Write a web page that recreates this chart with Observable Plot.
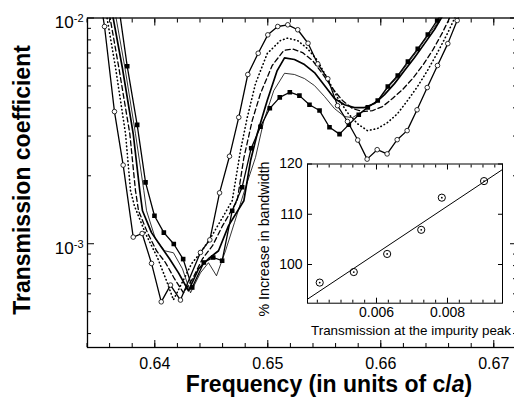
<!DOCTYPE html>
<html><head><meta charset="utf-8">
<script src="https://cdn.jsdelivr.net/npm/d3@7"></script>
<script src="https://cdn.jsdelivr.net/npm/@observablehq/plot@0.6"></script>
<style>
html,body{margin:0;padding:0;background:#fff;overflow:hidden;}
#wrap{position:relative;width:514px;height:405px;overflow:hidden;background:#fff;}
#wrap svg{position:absolute;}
</style></head><body><div id="wrap"></div>
<script>
// ---- main chart data: frequency (c/a) and transmission coefficient ----
const freqA = [0.63533, 0.63555, 0.63643, 0.6372, 0.63809, 0.63888, 0.63971, 0.64057, 0.64139, 0.64227, 0.64404, 0.64487, 0.64573, 0.64661, 0.64743, 0.64823, 0.64915, 0.65, 0.65088, 0.65177, 0.65265, 0.65356, 0.65442, 0.65531, 0.65617, 0.65705, 0.65796, 0.65879, 0.65968, 0.66056, 0.66145, 0.66233, 0.66321, 0.66411, 0.66502, 0.66593, 0.66676, 0.66758];
const transA = [0.0108, 0.00917, 0.00385, 0.00223, 0.00107, 0.00111, 0.000818, 0.000553, 0.000656, 0.000563, 0.000915, 0.00104, 0.00168, 0.00244, 0.00363, 0.00562, 0.00698, 0.00842, 0.00917, 0.00933, 0.00887, 0.00773, 0.00626, 0.00538, 0.00409, 0.00348, 0.00288, 0.00237, 0.00261, 0.0025, 0.00289, 0.00317, 0.00392, 0.00492, 0.00616, 0.0077, 0.00975, 0.012];

const freqB = [0.63572, 0.63652, 0.63741, 0.63785, 0.6382, 0.63918, 0.64024, 0.64104, 0.64165, 0.64245, 0.64325, 0.64404, 0.64493, 0.64581, 0.64685, 0.64758, 0.64818, 0.64891, 0.64995, 0.65112, 0.65174, 0.65263, 0.65351, 0.6544, 0.65528, 0.65617, 0.65705, 0.65794, 0.65882, 0.65971, 0.66059, 0.66148, 0.66237, 0.66325, 0.66413, 0.66502, 0.6659, 0.66652, 0.66705];
const transB = [0.01036, 0.00605, 0.00307, 0.00172, 0.00147, 0.00111, 0.000867, 0.000685, 0.000564, 0.000678, 0.000815, 0.000912, 0.00106, 0.00126, 0.00155, 0.00258, 0.00362, 0.00512, 0.00696, 0.00795, 0.00814, 0.00795, 0.00732, 0.00648, 0.00539, 0.00444, 0.00381, 0.0034, 0.00317, 0.00324, 0.00344, 0.00377, 0.00431, 0.00497, 0.00585, 0.00703, 0.00854, 0.00995, 0.01125];

const freqC = [0.63599, 0.63681, 0.63779, 0.63829, 0.63856, 0.63935, 0.64015, 0.64095, 0.64174, 0.64254, 0.64334, 0.64422, 0.64511, 0.64599, 0.64729, 0.64788, 0.64862, 0.64935, 0.65039, 0.65142, 0.65219, 0.65307, 0.65396, 0.65484, 0.65573, 0.65661, 0.6575, 0.65838, 0.65927, 0.66015, 0.66104, 0.66193, 0.66281, 0.6637, 0.66458, 0.66546, 0.66617];
const transC = [0.01036, 0.00605, 0.00307, 0.00172, 0.0014, 0.00112, 0.000931, 0.000824, 0.0007, 0.000606, 0.0007, 0.000858, 0.00098, 0.0012, 0.00155, 0.0024, 0.00351, 0.00463, 0.00616, 0.00718, 0.00729, 0.00703, 0.00648, 0.00567, 0.00487, 0.00431, 0.00397, 0.00385, 0.00389, 0.00405, 0.0044, 0.00482, 0.00539, 0.00616, 0.00718, 0.00862, 0.0102];

const freqD = [0.63626, 0.63712, 0.63809, 0.63867, 0.63891, 0.63971, 0.6405, 0.6413, 0.6421, 0.64298, 0.64387, 0.64475, 0.64564, 0.64652, 0.64788, 0.64847, 0.64906, 0.64995, 0.65083, 0.65148, 0.65236, 0.65325, 0.65413, 0.65502, 0.6559, 0.65679, 0.65767, 0.65856, 0.65944, 0.66033, 0.66121, 0.6621, 0.66299, 0.66387, 0.66475, 0.66546];
const transD = [0.01036, 0.00605, 0.00307, 0.00172, 0.0014, 0.00112, 0.00098, 0.000858, 0.000743, 0.000619, 0.000774, 0.000858, 0.000931, 0.0012, 0.00155, 0.00233, 0.00306, 0.00431, 0.00585, 0.00666, 0.00655, 0.00622, 0.00573, 0.00502, 0.0044, 0.00413, 0.00401, 0.00401, 0.00418, 0.00458, 0.00512, 0.00585, 0.00668, 0.0077, 0.00889, 0.0102];

const freqE = [0.63652, 0.63735, 0.63829, 0.63903, 0.63927, 0.64006, 0.64086, 0.64165, 0.64245, 0.64316, 0.64404, 0.64475, 0.64546, 0.64626, 0.64705, 0.64794, 0.64891, 0.64965, 0.65053, 0.65148, 0.65236, 0.65325, 0.65413, 0.65502, 0.6559, 0.65679, 0.6575, 0.6582, 0.65891, 0.65971, 0.66059, 0.66148, 0.66237, 0.66325, 0.66413, 0.66502, 0.66546];
const transE = [0.01036, 0.00605, 0.00307, 0.00172, 0.0014, 0.00105, 0.000931, 0.000912, 0.000774, 0.000606, 0.000743, 0.000824, 0.000721, 0.000931, 0.00124, 0.00172, 0.00241, 0.00351, 0.00477, 0.00569, 0.00562, 0.00539, 0.00502, 0.00449, 0.00397, 0.00366, 0.00362, 0.00381, 0.00405, 0.00428, 0.00489, 0.00547, 0.00628, 0.00718, 0.00828, 0.00955, 0.01036];

const freqF = [0.63667, 0.63756, 0.63844, 0.63918, 0.63997, 0.6408, 0.64168, 0.64251, 0.64331, 0.64434, 0.64517, 0.64596, 0.64685, 0.64773, 0.64853, 0.64935, 0.65018, 0.65106, 0.65195, 0.6528, 0.65369, 0.65458, 0.65546, 0.65635, 0.65717, 0.65805, 0.65885, 0.65973, 0.66062, 0.6615, 0.6624, 0.66327, 0.66416, 0.66499, 0.66582];
const transF = [0.0126, 0.00611, 0.00336, 0.00187, 0.00133, 0.00112, 0.000997, 0.000855, 0.00064, 0.000826, 0.000869, 0.000841, 0.0014, 0.00178, 0.00265, 0.0033, 0.00398, 0.00445, 0.00469, 0.00453, 0.00413, 0.00389, 0.00328, 0.00306, 0.00337, 0.00373, 0.00402, 0.00431, 0.00497, 0.00556, 0.00641, 0.0073, 0.00845, 0.00975, 0.01125];

// ---- inset data ----
const peakTrans = [0.0044, 0.00536, 0.0063, 0.00726, 0.00784, 0.00903];
const bwIncrease = [96.4, 98.5, 102.1, 106.9, 113.3, 116.6];
const fitTrans = [0.004056, 0.00955];
const fitIncrease = [93.1, 118.9];

// ---- tick labels / titles ----
const xTicks = [0.64, 0.65, 0.66, 0.67];
const yTicks = [0.001, 0.01];
const insetXTicks = [0.006, 0.008];
const insetYTicks = [100, 110, 120];
const xTitle = ["Frequency (in units of c/", "a", ")"];
const yTitle = "Transmission coefficient";
const insetXTitle = "Transmission at the impurity peak";
const insetYTitle = "% Increase in bandwidth";

const FONT = '"Liberation Sans", Arial, Helvetica, sans-serif';
const rows = (f, t) => f.map((v, i) => ({f: v, t: t[i]}));
const xMinor = d3.range(317, 337).map(k => k * 0.002);
const yMinor = [4,5,6,7,8,9].map(k => k * 1e-4).concat([2,3,4,5,6,7,8,9].map(k => k * 1e-3));
const blank = () => "";

const main = Plot.plot({
  width: 518, height: 405,
  marginLeft: 87, marginRight: 2, marginTop: 17.5, marginBottom: 58,
  x: {domain: [0.634044, 0.67201], label: null},
  y: {type: "log", domain: [3.47e-4, 1e-2], label: null},
  style: {background: "transparent", maxWidth: "none", fontFamily: FONT, overflow: "visible"},
  marks: [
    Plot.line(rows(freqE, transE), {x: "f", y: "t", stroke: "black", strokeWidth: 0.8, clip: true}),
    Plot.line(rows(freqD, transD), {x: "f", y: "t", stroke: "black", strokeWidth: 1.7, clip: true}),
    Plot.line(rows(freqC, transC), {x: "f", y: "t", stroke: "black", strokeWidth: 1.3, strokeDasharray: "5,3", clip: true}),
    Plot.line(rows(freqB, transB), {x: "f", y: "t", stroke: "black", strokeWidth: 1.6, strokeDasharray: "0.5,3.2", strokeLinecap: "round", clip: true}),
    Plot.line(rows(freqF, transF), {x: "f", y: "t", stroke: "black", strokeWidth: 1.3, clip: true}),
    Plot.line(rows(freqA, transA), {x: "f", y: "t", stroke: "black", strokeWidth: 1.3, clip: true}),
    Plot.dot(rows(freqF, transF), {x: "f", y: "t", symbol: "square", r: 2.6, fill: "black", clip: true}),
    Plot.dot(rows(freqA, transA), {x: "f", y: "t", r: 2.3, fill: "white", stroke: "black", strokeWidth: 0.8, clip: true}),
    Plot.axisX({anchor: "bottom", ticks: xMinor, tickSize: -4, tickFormat: blank, label: null}),
    Plot.axisX({anchor: "bottom", ticks: xTicks, tickSize: -7, tickFormat: blank, label: null}),
    Plot.axisX({anchor: "bottom", ticks: xTicks, tickSize: 0, tickPadding: 10, tickFormat: d3.format(".2f"), fontSize: 16, label: null}),
    Plot.axisX({anchor: "top", ticks: xMinor, tickSize: -4, tickFormat: blank, label: null}),
    Plot.axisX({anchor: "top", ticks: xTicks, tickSize: -7, tickFormat: blank, label: null}),
    Plot.axisY({anchor: "left", ticks: yMinor, tickSize: -4, tickFormat: blank, label: null}),
    Plot.axisY({anchor: "left", ticks: yTicks, tickSize: -7, tickFormat: blank, label: null}),
    Plot.axisY({anchor: "left", ticks: yTicks, tickSize: 0, tickPadding: 4, tickFormat: d => "10^" + Math.round(Math.log10(d)), fontSize: 17, label: null}),
    Plot.axisY({anchor: "right", ticks: yMinor, tickSize: -4, tickFormat: blank, label: null}),
    Plot.axisY({anchor: "right", ticks: yTicks, tickSize: -7, tickFormat: blank, label: null}),
    Plot.frame({stroke: "black", strokeWidth: 1.3})
  ]
});
main.style.left = "0px"; main.style.top = "0px";

main.querySelectorAll("text").forEach(t => {
  const m = /^10\^(-?\d+)$/.exec(t.textContent);
  if (!m) return;
  t.textContent = "";
  const s = d3.select(t).attr("dy", "0.28em");
  s.append("tspan").text("10");
  s.append("tspan").attr("dy", "-0.55em").attr("font-size", 11).text(m[1]);
});

const ms = d3.select(main);
ms.append("text").attr("transform", "translate(29.5,180) rotate(-90)").attr("text-anchor", "middle")
  .attr("font-weight", "bold").attr("font-size", 23).attr("font-family", FONT).text(yTitle);
const xt = ms.append("text").attr("x", 329).attr("y", 392).attr("text-anchor", "middle")
  .attr("font-weight", "bold").attr("font-size", 23).attr("font-family", FONT);
xt.append("tspan").text(xTitle[0]);
xt.append("tspan").attr("font-style", "italic").text(xTitle[1]);
xt.append("tspan").text(xTitle[2]);

// ---- inset ----
const inXMinor = d3.range(-6, 12).map(k => 0.006 + k * 0.002 / 6).filter(v => v > 0.00406 && v < 0.00955);
const inset = Plot.plot({
  width: 264, height: 193,
  marginLeft: 57, marginRight: 12, marginTop: 13.5, marginBottom: 40.3,
  x: {domain: [0.004056, 0.00955], label: null},
  y: {domain: [92.3, 120], label: null},
  style: {background: "transparent", maxWidth: "none", fontFamily: FONT, overflow: "visible"},
  marks: [
    Plot.frame({fill: "white", stroke: null}),
    Plot.line(rows(fitTrans, fitIncrease), {x: "f", y: "t", stroke: "black", strokeWidth: 1, clip: true}),
    Plot.dot(rows(peakTrans, bwIncrease), {x: "f", y: "t", r: 3.6, stroke: "black", strokeWidth: 1, fill: "none"}),
    Plot.dot(rows(peakTrans, bwIncrease), {x: "f", y: "t", r: 0.9, fill: "black"}),
    Plot.axisX({anchor: "bottom", ticks: inXMinor, tickSize: -3, tickFormat: blank, label: null}),
    Plot.axisX({anchor: "top", ticks: inXMinor, tickSize: -3, tickFormat: blank, label: null}),
    Plot.axisX({anchor: "bottom", ticks: insetXTicks, tickSize: -5, tickFormat: blank, label: null}),
    Plot.axisX({anchor: "top", ticks: insetXTicks, tickSize: -5, tickFormat: blank, label: null}),
    Plot.axisX({anchor: "bottom", ticks: insetXTicks, tickSize: 0, tickPadding: 4, tickFormat: d3.format(".3f"), fontSize: 14, label: null}),
    Plot.axisY({anchor: "left", ticks: insetYTicks, tickSize: -5, tickFormat: blank, label: null}),
    Plot.axisY({anchor: "right", ticks: insetYTicks, tickSize: -5, tickFormat: blank, label: null}),
    Plot.axisY({anchor: "left", ticks: insetYTicks, tickSize: 0, tickPadding: 5, tickFormat: d => String(d), fontSize: 14, label: null}),
    Plot.frame({stroke: "black", strokeWidth: 1})
  ]
});
inset.style.left = "250px"; inset.style.top = "150px";
const is = d3.select(inset);
is.append("text").attr("x", 161).attr("y", 184.7).attr("text-anchor", "middle")
  .attr("font-size", 13.5).attr("font-family", FONT)
  .attr("textLength", 200).attr("lengthAdjust", "spacingAndGlyphs").text(insetXTitle);
is.append("text").attr("transform", "translate(19,89) rotate(-90)").attr("text-anchor", "middle")
  .attr("font-size", 14).attr("font-family", FONT)
  .attr("textLength", 155).attr("lengthAdjust", "spacingAndGlyphs").text(insetYTitle);

const wrap = document.getElementById("wrap");
wrap.appendChild(main);
wrap.appendChild(inset);
</script>
</body></html>
